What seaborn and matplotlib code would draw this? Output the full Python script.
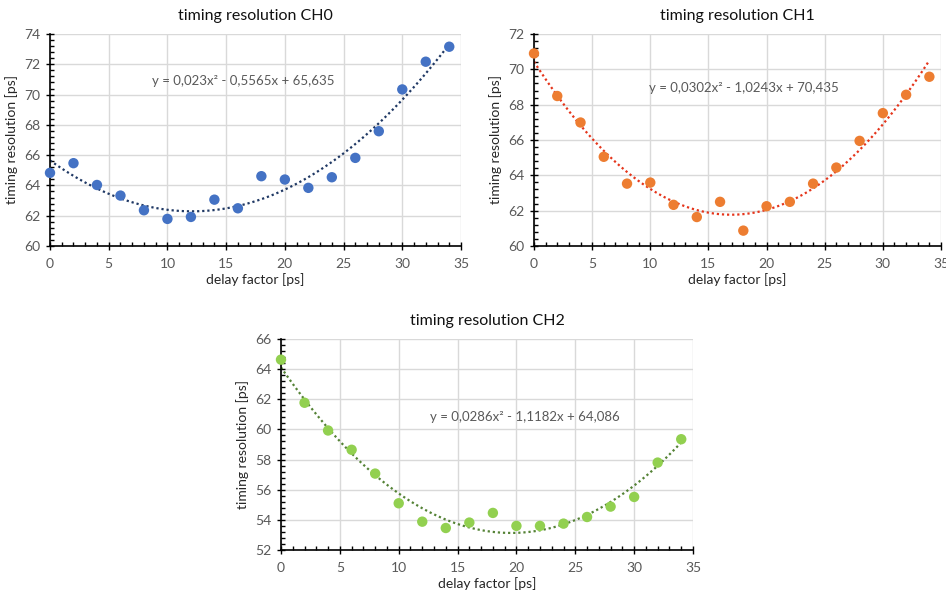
import numpy as np
import pandas as pd
import matplotlib
matplotlib.use("Agg")
import matplotlib.pyplot as plt
from matplotlib.ticker import MultipleLocator
import seaborn as sns

delay = [0, 2, 4, 6, 8, 10, 12, 14, 16, 18, 20, 22, 24, 26, 28, 30, 32, 34]
ch0 = [64.83, 65.47, 64.03, 63.33, 62.36, 61.79, 61.92, 63.06, 62.49, 64.61,
       64.39, 63.84, 64.54, 65.82, 67.58, 70.34, 72.17, 73.16]
ch1 = [70.90, 68.49, 66.99, 65.05, 63.53, 63.59, 62.33, 61.64, 62.50, 60.87,
       62.25, 62.50, 63.53, 64.44, 65.95, 67.52, 68.56, 69.58]
ch2 = [64.63, 61.77, 59.93, 58.65, 57.07, 55.10, 53.88, 53.46, 53.82, 54.46,
       53.60, 53.60, 53.75, 54.19, 54.88, 55.52, 57.80, 59.35]

titles = ["timing resolution CH0", "timing resolution CH1", "timing resolution CH2"]
equations = ["y = 0,023x\u00b2 - 0,5565x + 65,635",
             "y = 0,0302x\u00b2 - 1,0243x + 70,435",
             "y = 0,0286x\u00b2 - 1,1182x + 64,086"]
eq_pos = [(8.7, 70.9), (9.9, 68.94), (12.66, 60.82)]
ylims = [(60, 74), (60, 72), (52, 66)]
point_colors = ["#4472C4", "#ED7D31", "#92D050"]
trend_colors = ["#1F3864", "#E5351B", "#548235"]
xlabel = "delay factor [ps]"
ylabel = "timing resolution [ps]"

sns.set_theme(style="white")
plt.rcParams["font.family"] = ["Lato", "DejaVu Sans"]

W, H = 946, 590
fig = plt.figure(figsize=(W / 100, H / 100), dpi=100)

# axes rectangles in pixels: left, top, right, bottom
rects = [(50, 34, 461, 246), (534, 34, 941, 246), (281, 339, 693, 550)]

series = [ch0, ch1, ch2]
for i, (l, t, r, b) in enumerate(rects):
    ax = fig.add_axes([l / W, 1 - b / H, (r - l) / W, (b - t) / H])
    df = pd.DataFrame({"x": delay, "y": series[i]})
    sns.regplot(data=df, x="x", y="y", order=2, ci=None, scatter=False, ax=ax,
                line_kws=dict(color=trend_colors[i], lw=1.6, ls=(0, (1, 1.3))))
    sns.scatterplot(data=df, x="x", y="y", ax=ax, color=point_colors[i], s=56,
                    edgecolor="none", zorder=3, clip_on=False)
    ax.set_xlim(0, 35)
    ax.set_ylim(*ylims[i])
    ax.xaxis.set_major_locator(MultipleLocator(5))
    ax.xaxis.set_minor_locator(MultipleLocator(1))
    ax.yaxis.set_major_locator(MultipleLocator(2))
    ax.yaxis.set_minor_locator(MultipleLocator(0.4))
    ax.grid(True, which="major", color="#D9D9D9", lw=1)
    ax.set_axisbelow(True)
    for s in ["top", "right"]:
        ax.spines[s].set_visible(False)
    for s in ["left", "bottom"]:
        ax.spines[s].set_color("black")
        ax.spines[s].set_linewidth(1.2)
    ax.tick_params(which="major", direction="inout", length=6, width=1, color="black",
                   labelsize=10, labelcolor="#595959", bottom=True, left=True)
    ax.tick_params(which="minor", direction="in", length=3, width=1, color="black",
                   bottom=True, left=True)
    ax.tick_params(axis="x", which="major", pad=6)
    ax.tick_params(axis="y", which="major", pad=4)
    ax.set_xlabel(xlabel, fontsize=10, color="#262626", labelpad=2)
    ax.set_ylabel(ylabel, fontsize=10, color="#262626", labelpad=4)
    ax.set_title(titles[i], fontsize=11.5, color="#111111", pad=10)
    ax.text(eq_pos[i][0], eq_pos[i][1], equations[i], fontsize=9.5, color="#595959",
            va="center", ha="left")

fig.savefig("out.png", dpi=100, facecolor="white")
